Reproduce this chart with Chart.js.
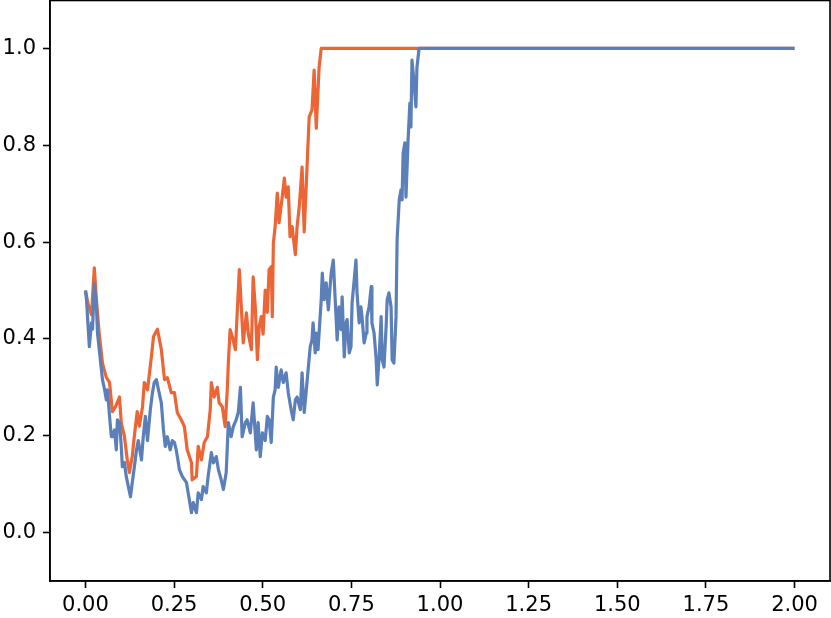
<!DOCTYPE html>
<html>
<head>
<meta charset="utf-8">
<script src="https://cdn.jsdelivr.net/npm/chart.js@4"></script>
<style>
  html, body { margin: 0; padding: 0; background: #fff; }
  #wrap { width: 831px; height: 618px; }
</style>
</head>
<body>
<div id="wrap"><canvas id="walkChart" width="831" height="618"></canvas></div>
<script>
    // orange walk, hits 1.0 near x = 0.665
    const orangeX = [
      0, 0.008, 0.017, 0.025, 0.031, 0.039, 0.048, 0.059, 0.068, 0.076,
      0.085, 0.096, 0.101, 0.110, 0.118, 0.124, 0.132, 0.138, 0.146, 0.152,
      0.161, 0.166, 0.175, 0.186, 0.192, 0.203, 0.214, 0.223, 0.231, 0.242,
      0.251, 0.259, 0.270, 0.279, 0.287, 0.299, 0.301, 0.313, 0.318, 0.327,
      0.335, 0.344, 0.352, 0.355, 0.363, 0.372, 0.377, 0.386, 0.394, 0.400,
      0.403, 0.408, 0.414, 0.423, 0.428, 0.434, 0.439, 0.445, 0.454, 0.459,
      0.468, 0.473, 0.479, 0.485, 0.490, 0.496, 0.501, 0.507, 0.513, 0.518,
      0.524, 0.527, 0.530, 0.535, 0.541, 0.546, 0.555, 0.561, 0.566, 0.572,
      0.577, 0.583, 0.592, 0.597, 0.603, 0.611, 0.617, 0.623, 0.631, 0.639,
      0.645, 0.651, 0.659, 0.665, 2.0
    ];
    const orangeY = [
      0.50, 0.47, 0.45, 0.547, 0.48, 0.41, 0.35, 0.32, 0.31, 0.25,
      0.26, 0.28, 0.227, 0.198, 0.15, 0.124, 0.157, 0.20, 0.25, 0.22,
      0.26, 0.31, 0.295, 0.363, 0.405, 0.42, 0.378, 0.316, 0.32, 0.289,
      0.289, 0.248, 0.233, 0.219, 0.171, 0.144, 0.109, 0.116, 0.178, 0.15,
      0.186, 0.198, 0.254, 0.31, 0.28, 0.30, 0.268, 0.26, 0.219, 0.295,
      0.35, 0.419, 0.405, 0.378, 0.454, 0.543, 0.474, 0.392, 0.454, 0.412,
      0.378, 0.528, 0.466, 0.357, 0.425, 0.446, 0.41, 0.501, 0.455, 0.543,
      0.549, 0.446, 0.598, 0.632, 0.701, 0.64, 0.693, 0.732, 0.693, 0.714,
      0.611, 0.632, 0.574, 0.632, 0.673, 0.755, 0.621, 0.722, 0.858, 0.873,
      0.955, 0.835, 0.961, 1.0, 1.0
    ];

    // blue walk, hits 1.0 near x = 0.94
    const blueX = [
      0, 0.003, 0.011, 0.017, 0.020, 0.025, 0.031, 0.034, 0.042, 0.048,
      0.054, 0.059, 0.062, 0.068, 0.073, 0.076, 0.082, 0.087, 0.090, 0.096,
      0.101, 0.104, 0.110, 0.115, 0.121, 0.127, 0.132, 0.138, 0.144, 0.149,
      0.158, 0.163, 0.169, 0.175, 0.183, 0.189, 0.194, 0.200, 0.206, 0.214,
      0.220, 0.225, 0.231, 0.239, 0.245, 0.251, 0.256, 0.262, 0.265, 0.273,
      0.285, 0.293, 0.299, 0.304, 0.313, 0.318, 0.327, 0.332, 0.341, 0.346,
      0.355, 0.361, 0.369, 0.375, 0.383, 0.389, 0.397, 0.403, 0.411, 0.417,
      0.425, 0.431, 0.437, 0.442, 0.451, 0.456, 0.465, 0.473, 0.482, 0.487,
      0.493, 0.499, 0.507, 0.513, 0.518, 0.524, 0.530, 0.535, 0.538, 0.544,
      0.552, 0.558, 0.566, 0.572, 0.580, 0.586, 0.592, 0.597, 0.606, 0.611,
      0.617, 0.623, 0.628, 0.634, 0.639, 0.642, 0.648, 0.651, 0.656, 0.665,
      0.668, 0.673, 0.679, 0.685, 0.693, 0.699, 0.704, 0.710, 0.715, 0.721,
      0.724, 0.730, 0.735, 0.738, 0.744, 0.749, 0.752, 0.758, 0.763, 0.766,
      0.772, 0.777, 0.780, 0.786, 0.792, 0.794, 0.800, 0.806, 0.808, 0.814,
      0.820, 0.823, 0.828, 0.834, 0.837, 0.842, 0.848, 0.851, 0.856, 0.862,
      0.865, 0.870, 0.876, 0.879, 0.885, 0.890, 0.893, 0.896, 0.901, 0.904,
      0.910, 0.915, 0.918, 0.921, 0.927, 0.932, 0.935, 0.941, 2.0
    ];
    const blueY = [
      0.50, 0.48, 0.384, 0.433, 0.42, 0.515, 0.466, 0.412, 0.357, 0.316,
      0.295, 0.274, 0.295, 0.24, 0.198, 0.198, 0.212, 0.171, 0.233, 0.228,
      0.178, 0.136, 0.145, 0.116, 0.095, 0.074, 0.103, 0.136, 0.171, 0.19,
      0.15, 0.198, 0.24, 0.19, 0.254, 0.289, 0.31, 0.316, 0.295, 0.268,
      0.212, 0.178, 0.198, 0.171, 0.19, 0.186, 0.171, 0.144, 0.13, 0.116,
      0.103, 0.068, 0.041, 0.062, 0.041, 0.082, 0.068, 0.095, 0.082, 0.116,
      0.165, 0.144, 0.157, 0.13, 0.109, 0.089, 0.124, 0.227, 0.198, 0.219,
      0.233, 0.248, 0.30, 0.198, 0.227, 0.233, 0.206, 0.268, 0.171, 0.227,
      0.157, 0.206, 0.19, 0.24, 0.233, 0.186, 0.28, 0.295, 0.342, 0.30,
      0.336, 0.31, 0.33, 0.289, 0.254, 0.233, 0.274, 0.28, 0.254, 0.33,
      0.248, 0.295, 0.336, 0.384, 0.398, 0.433, 0.371, 0.412, 0.378, 0.481,
      0.536, 0.481, 0.516, 0.46, 0.536, 0.563, 0.487, 0.398, 0.466, 0.419,
      0.487, 0.363, 0.433, 0.44, 0.371, 0.384, 0.474, 0.522, 0.563, 0.495,
      0.433, 0.466, 0.446, 0.392, 0.412, 0.446, 0.466, 0.508, 0.433, 0.412,
      0.357, 0.305, 0.357, 0.446, 0.357, 0.342, 0.425, 0.481, 0.495, 0.466,
      0.357, 0.35, 0.446, 0.605, 0.687, 0.708, 0.687, 0.784, 0.805, 0.693,
      0.811, 0.887, 0.838, 0.976, 0.928, 0.879, 0.961, 1.0, 1.0
    ];

    const xTicks = [0, 0.25, 0.5, 0.75, 1.0, 1.25, 1.5, 1.75, 2.0];
    const xTickLabels = ["0.00", "0.25", "0.50", "0.75", "1.00", "1.25", "1.50", "1.75", "2.00"];
    const yTicks = [0, 0.2, 0.4, 0.6, 0.8, 1.0];
    const yTickLabels = ["0.0", "0.2", "0.4", "0.6", "0.8", "1.0"];

    function toPoints(xs, ys) {
      return xs.map((x, i) => ({ x: x, y: ys[i] }));
    }

    // top and right spines
    const frame = {
      id: "frame",
      afterDraw(chart) {
        const a = chart.chartArea;
        const c = chart.ctx;
        c.save();
        c.strokeStyle = "#000";
        c.lineWidth = 1.6;
        c.strokeRect(a.left, a.top + 0.5, a.right - a.left, a.bottom - a.top - 0.5);
        c.restore();
      }
    };

    const tickFont = { family: "DejaVu Sans", size: 21 };

    new Chart(document.getElementById("walkChart"), {
      type: "line",
      data: {
        datasets: [{
          label: "blue",
          data: toPoints(blueX, blueY),
          borderColor: "#5a7fb9",
          borderWidth: 3.2,
          borderJoinStyle: "round",
          pointRadius: 0,
          tension: 0
        }, {
          label: "orange",
          data: toPoints(orangeX, orangeY),
          borderColor: "#ed6535",
          borderWidth: 3.2,
          borderJoinStyle: "round",
          pointRadius: 0,
          tension: 0
        }]
      },
      options: {
        responsive: false,
        animation: false,
        layout: { padding: { top: 0, right: 1, left: 0, bottom: 0 } },
        plugins: { legend: { display: false }, tooltip: { enabled: false } },
        scales: {
          x: {
            type: "linear",
            min: -0.1,
            max: 2.1,
            afterBuildTicks: s => { s.ticks = xTicks.map(v => ({ value: v })); },
            afterFit: s => { s.height = 37; s.paddingLeft = 0; s.paddingRight = 0; },
            grid: { drawOnChartArea: false, tickLength: 7, tickWidth: 1.6, tickColor: "#000" },
            border: { color: "#000", width: 1.6 },
            ticks: {
              color: "#000",
              font: tickFont,
              padding: 5,
              maxRotation: 0,
              autoSkip: false,
              callback: (v, i) => xTickLabels[i]
            }
          },
          y: {
            min: -0.1,
            max: 1.1,
            afterBuildTicks: s => { s.ticks = yTicks.map(v => ({ value: v })); },
            afterFit: s => { s.width = 50; s.paddingTop = 0; s.paddingBottom = 0; },
            grid: { drawOnChartArea: false, tickLength: 7, tickWidth: 1.6, tickColor: "#000" },
            border: { color: "#000", width: 1.6 },
            ticks: {
              color: "#000",
              font: tickFont,
              padding: 7,
              autoSkip: false,
              callback: (v, i) => yTickLabels[i]
            }
          }
        }
      },
      plugins: [frame]
    });
</script>
</body>
</html>
